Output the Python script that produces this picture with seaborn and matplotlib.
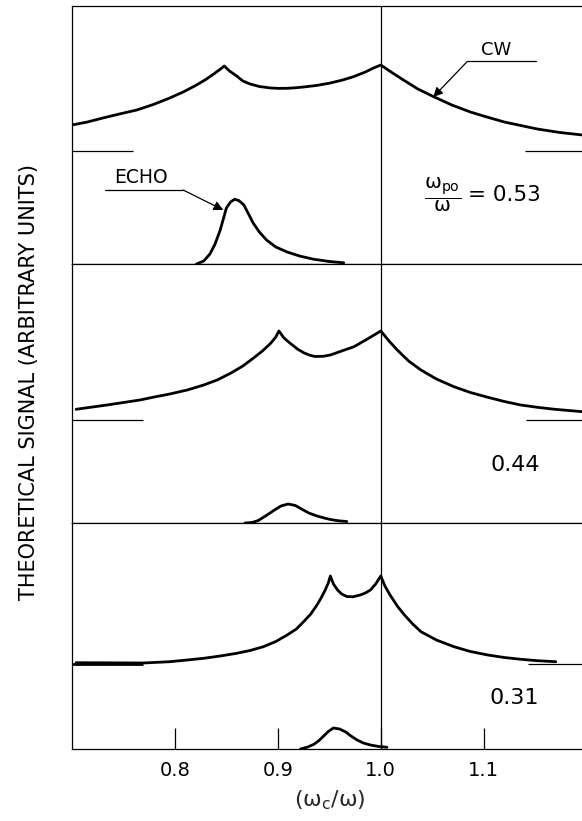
import numpy as np
import pandas as pd
import matplotlib
matplotlib.use("Agg")
import matplotlib.pyplot as plt
import seaborn as sns

# x axis: omega_c / omega ; y: theoretical signal (arbitrary units, above own baseline)
cw1_x = [0.700, 0.715, 0.730, 0.746, 0.763, 0.779, 0.795, 0.808, 0.821, 0.830, 0.837,
         0.843, 0.848, 0.853, 0.860, 0.866, 0.873, 0.882, 0.893, 0.901, 0.909, 0.917,
         0.925, 0.938, 0.951, 0.963, 0.974, 0.985, 0.993, 1.000, 1.010, 1.022, 1.036,
         1.052, 1.069, 1.087, 1.103, 1.120, 1.136, 1.152, 1.174, 1.196]
cw1_y = [0.26, 0.29, 0.33, 0.37, 0.41, 0.465, 0.53, 0.59, 0.66, 0.715, 0.765,
         0.81, 0.85, 0.80, 0.75, 0.70, 0.67, 0.645, 0.63, 0.626, 0.627, 0.632,
         0.64, 0.656, 0.68, 0.71, 0.745, 0.79, 0.83, 0.86, 0.79, 0.71, 0.62,
         0.54, 0.46, 0.39, 0.34, 0.29, 0.255, 0.22, 0.185, 0.16]
echo1_x = [0.821, 0.828, 0.834, 0.839, 0.844, 0.847, 0.850, 0.854, 0.858, 0.862, 0.867,
           0.871, 0.876, 0.882, 0.889, 0.898, 0.909, 0.921, 0.935, 0.950, 0.964]
echo1_y = [0.0, 0.03, 0.10, 0.20, 0.34, 0.45, 0.56, 0.62, 0.647, 0.635, 0.59,
           0.51, 0.41, 0.32, 0.24, 0.17, 0.12, 0.08, 0.047, 0.025, 0.012]

cw2_x = [0.704, 0.720, 0.734, 0.750, 0.766, 0.780, 0.795, 0.812, 0.828, 0.841, 0.854,
         0.866, 0.876, 0.885, 0.893, 0.898, 0.901, 0.906, 0.912, 0.919, 0.925, 0.931,
         0.936, 0.944, 0.951, 0.962, 0.974, 0.987, 1.000, 1.008, 1.016, 1.027, 1.039,
         1.054, 1.071, 1.087, 1.104, 1.120, 1.136, 1.152, 1.169, 1.196]
cw2_y = [0.107, 0.13, 0.15, 0.175, 0.20, 0.23, 0.26, 0.30, 0.35, 0.40, 0.467,
         0.54, 0.617, 0.69, 0.767, 0.83, 0.89, 0.82, 0.767, 0.71, 0.673, 0.648,
         0.635, 0.637, 0.65, 0.69, 0.733, 0.81, 0.89, 0.79, 0.70, 0.59, 0.50,
         0.41, 0.333, 0.275, 0.227, 0.185, 0.15, 0.127, 0.107, 0.083]
echo2_x = [0.868, 0.875, 0.881, 0.888, 0.896, 0.903, 0.910, 0.917, 0.923, 0.930, 0.938,
           0.945, 0.951, 0.959, 0.967]
echo2_y = [0.0, 0.005, 0.025, 0.07, 0.125, 0.17, 0.19, 0.175, 0.14, 0.10, 0.07,
           0.05, 0.035, 0.022, 0.015]

cw3_x = [0.704, 0.769, 0.795, 0.812, 0.828, 0.844, 0.860, 0.873, 0.886, 0.898, 0.909,
         0.918, 0.925, 0.932, 0.938, 0.942, 0.946, 0.949, 0.951, 0.954, 0.958, 0.962,
         0.967, 0.973, 0.980, 0.985, 0.990, 0.995, 1.000, 1.004, 1.009, 1.016, 1.023,
         1.031, 1.039, 1.054, 1.071, 1.087, 1.104, 1.120, 1.136, 1.152, 1.170]
cw3_y = [0.013, 0.01, 0.023, 0.04, 0.057, 0.08, 0.107, 0.135, 0.173, 0.225, 0.29,
         0.35, 0.423, 0.50, 0.59, 0.66, 0.74, 0.81, 0.88, 0.80, 0.74, 0.70,
         0.675, 0.672, 0.69, 0.71, 0.74, 0.80, 0.88, 0.78, 0.69, 0.58, 0.49,
         0.40, 0.323, 0.24, 0.173, 0.125, 0.09, 0.065, 0.047, 0.033, 0.023]
echo3_x = [0.922, 0.929, 0.935, 0.940, 0.944, 0.949, 0.954, 0.960, 0.966, 0.971, 0.977,
           0.983, 0.990, 0.998, 1.006]
echo3_y = [0.0, 0.02, 0.047, 0.085, 0.125, 0.175, 0.21, 0.20, 0.17, 0.13, 0.09,
           0.06, 0.04, 0.025, 0.017]

ratio_labels = ["0.53", "0.44", "0.31"]
xticks = [0.8, 0.9, 1.0, 1.1]
xtick_labels = ["0.8", "0.9", "1.0", "1.1"]

cw_x = [cw1_x, cw2_x, cw3_x]
cw_y = [cw1_y, cw2_y, cw3_y]
echo_x = [echo1_x, echo2_x, echo3_x]
echo_y = [echo1_y, echo2_y, echo3_y]
cw_offset = [1.13, 1.03, 0.85]
panel_top = [2.58, 2.59, 2.26]
base_left_end = [0.759, 0.769, 0.769]
base_right_start = [1.140, 1.141, 1.143]

sns.set_theme(style="white")
plt.rcParams["font.family"] = ["DejaVu Sans"]
plt.rcParams["mathtext.fontset"] = "dejavusans"
plt.rcParams["mathtext.default"] = "regular"
plt.rcParams["text.color"] = "black"
plt.rcParams["xtick.color"] = "black"

fig, axes = plt.subplots(3, 1, figsize=(5.82, 8.21), dpi=100, sharex=True,
                         gridspec_kw={"height_ratios": panel_top})
fig.subplots_adjust(left=0.1237, right=1.008, top=0.9927, bottom=0.0877, hspace=0)

lw_curve = 2.0
for i, ax in enumerate(axes):
    cw = pd.DataFrame({"x": cw_x[i], "y": np.array(cw_y[i]) + cw_offset[i]})
    echo = pd.DataFrame({"x": echo_x[i], "y": echo_y[i]})
    sns.lineplot(data=cw, x="x", y="y", ax=ax, color="black", lw=lw_curve,
                 sort=False, estimator=None)
    sns.lineplot(data=echo, x="x", y="y", ax=ax, color="black", lw=lw_curve,
                 sort=False, estimator=None)
    ax.axvline(1.0, color="black", lw=0.9)
    lw_left = lw_curve if i == 2 else 0.9
    ax.hlines(cw_offset[i], 0.7, base_left_end[i], color="black", lw=lw_left)
    ax.hlines(cw_offset[i], base_right_start[i], 1.2, color="black", lw=0.9)
    ax.set_xlim(0.7, 1.2)
    ax.set_ylim(0, panel_top[i])
    ax.set_yticks([])
    ax.set_xlabel("")
    ax.set_ylabel("")
    for s in ["left", "top", "bottom"]:
        ax.spines[s].set_color("black")
        ax.spines[s].set_linewidth(0.9)
    ax.spines["right"].set_visible(False)
    ax.tick_params(axis="x", length=0)

# labels of panel 1
ax = axes[0]
ax.text(1.112, 2.14, "CW", ha="center", va="center", fontsize=13)
ax.plot([1.084, 1.151], [2.025, 2.025], color="black", lw=0.9)
ax.annotate("", xy=(1.051, 1.67), xytext=(1.084, 2.025),
            arrowprops=dict(arrowstyle="-|>", color="black", lw=0.9,
                            mutation_scale=14, shrinkA=0, shrinkB=0))
ax.text(0.767, 0.86, "ECHO", ha="center", va="center", fontsize=13.5)
ax.plot([0.732, 0.808], [0.74, 0.74], color="black", lw=0.9)
ax.annotate("", xy=(0.847, 0.54), xytext=(0.808, 0.74),
            arrowprops=dict(arrowstyle="-|>", color="black", lw=0.9,
                            mutation_scale=14, shrinkA=0, shrinkB=0))
ax.text(1.078, 0.69, r"$\dfrac{\omega_{po}}{\omega}$", ha="right", va="center", fontsize=14.5)
ax.text(1.085, 0.69, "= " + ratio_labels[0], ha="left", va="center", fontsize=15.5)

axes[1].text(1.131, 0.58, ratio_labels[1], ha="center", va="center", fontsize=16)
axes[2].text(1.130, 0.51, ratio_labels[2], ha="center", va="center", fontsize=16)

bottom = axes[2]
bottom.set_xticks(xticks)
bottom.set_xticklabels(xtick_labels, fontsize=14)
bottom.tick_params(axis="x", direction="in", length=15, width=0.9, color="black",
                   pad=9, bottom=True)
bottom.set_xlabel(r"$(\omega_c/\omega)$", fontsize=16, labelpad=6)

fig.text(0.05, 0.535, "THEORETICAL SIGNAL (ARBITRARY UNITS)", rotation=90,
         ha="center", va="center", fontsize=15)

fig.savefig("out.png", dpi=100)
